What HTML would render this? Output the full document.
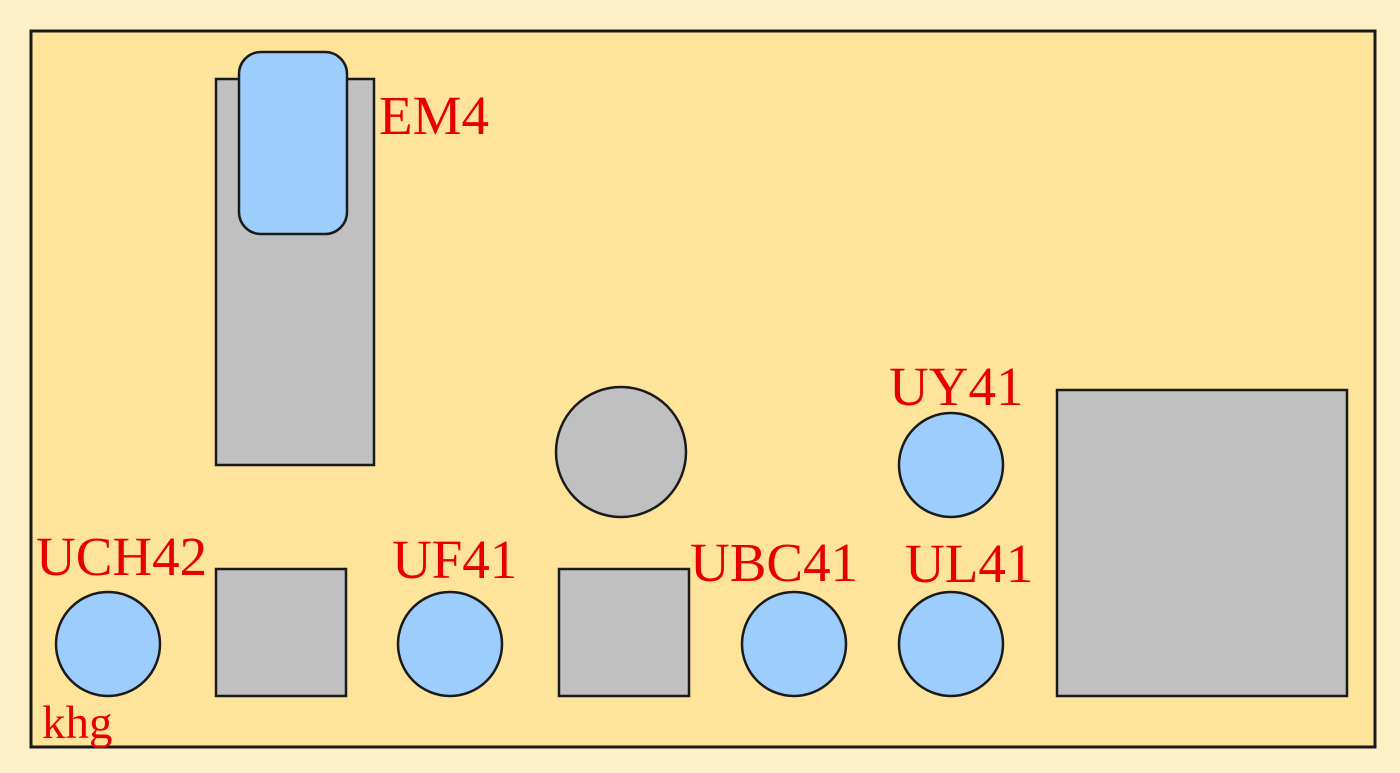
<!DOCTYPE html>
<html><head><style>
body{margin:0;width:1400px;height:773px;background:#fdf0c6;overflow:hidden}
svg{display:block}
text{font-family:"Liberation Serif",serif;fill:#e80000}
</style></head><body>
<svg width="1400" height="773" viewBox="0 0 1400 773">
<rect x="31" y="31" width="1344" height="716" fill="#fde49a" stroke="#1a1a1a" stroke-width="3"/>
<g stroke="#1a1a1a" stroke-width="2.5">
<rect x="216" y="79" width="158" height="386" fill="#c0c0c0"/>
<rect x="239" y="52" width="108" height="182" rx="22" fill="#9dcdfc"/>
<circle cx="621" cy="452" r="65" fill="#c0c0c0"/>
<circle cx="951" cy="465" r="52" fill="#9dcdfc"/>
<rect x="1057" y="390" width="290" height="306" fill="#c0c0c0"/>
<rect x="216" y="569" width="130" height="127" fill="#c0c0c0"/>
<rect x="559" y="569" width="130" height="127" fill="#c0c0c0"/>
<circle cx="108" cy="644" r="52" fill="#9dcdfc"/>
<circle cx="450" cy="644" r="52" fill="#9dcdfc"/>
<circle cx="794" cy="644" r="52" fill="#9dcdfc"/>
<circle cx="951" cy="644" r="52" fill="#9dcdfc"/>
</g>
<text x="379" y="134" font-size="55">EM4</text>
<text x="889" y="405" font-size="55">UY41</text>
<text x="36" y="575" font-size="55">UCH42</text>
<text x="392" y="578" font-size="55">UF41</text>
<text x="690" y="581" font-size="55">UBC41</text>
<text x="905" y="582" font-size="55">UL41</text>
<text x="42" y="738" font-size="47">khg</text>
</svg>
</body></html>
